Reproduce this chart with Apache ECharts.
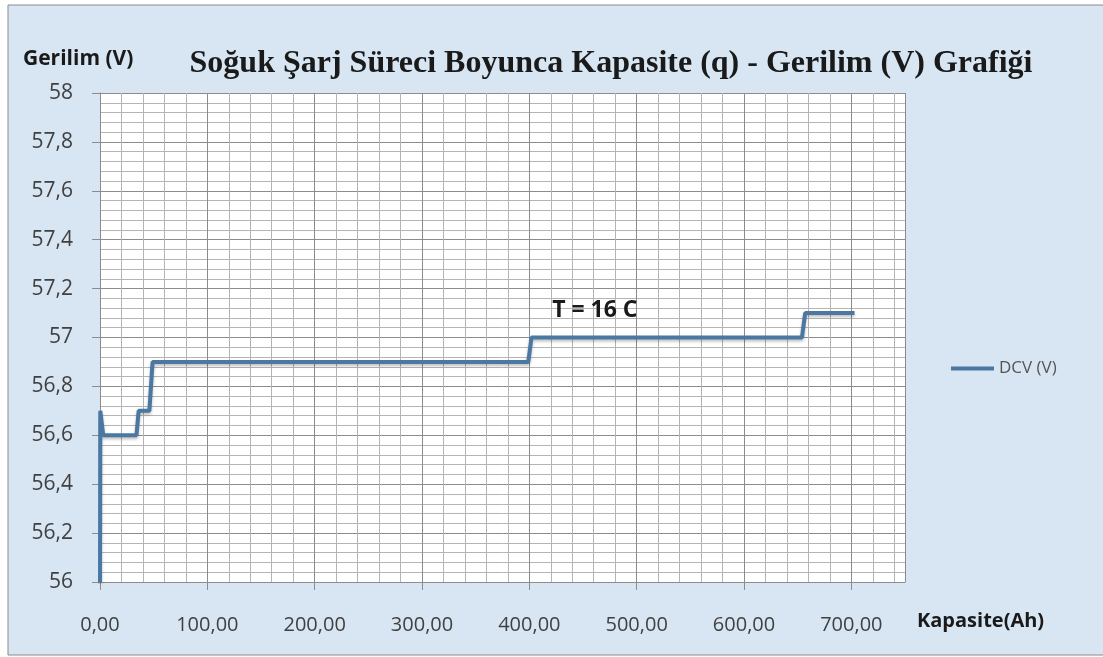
<!DOCTYPE html>
<html>
<head>
<meta charset="utf-8">
<script src="https://cdn.jsdelivr.net/npm/echarts@6/dist/echarts.min.js"></script>
<style>
  html, body { margin: 0; padding: 0; background: #ffffff; }
  #chart { width: 1103px; height: 657px; }
</style>
</head>
<body>
<div id="chart"></div>
<script>
// kapasite (Ah) ve gerilim (V) noktaları
const kapasite = [0, 0.3, 3, 34, 36, 46, 49, 399, 402, 654, 657, 703];
const gerilim = [56, 56.7, 56.6, 56.6, 56.7, 56.7, 56.9, 56.9, 57, 57, 57.1, 57.1];
const seriesName = 'DCV (V)';
const titleText = 'Soğuk Şarj Süreci Boyunca Kapasite (q) - Gerilim (V) Grafiği';
const noteText = 'T = 16 C';

const COLORS = {
  LINE: '#4A78A3',
  BG: '#d8e6f3',
  TEXT: '#404040',
  GRID_MINOR: '#b4b4b4',
  GRID_MAJOR: '#8c8c8c',
};

const fmtY = v => (Math.abs(v - Math.round(v)) < 1e-6 ? String(Math.round(v)) : v.toFixed(1).replace('.', ','));
const fmtX = v => v.toFixed(2).replace('.', ',');

const chart = echarts.init(document.getElementById('chart'));

chart.setOption({
  animation: false,
  backgroundColor: '#ffffff',
  graphic: [
    {
      type: 'rect',
      z: -10,
      shape: { x: 8, y: 5, width: 1110, height: 650 },
      style: { fill: COLORS.BG, stroke: '#8a8a8a', lineWidth: 1 }
    },
    {
      type: 'text',
      left: 23, top: 49,
      style: { text: 'Gerilim (V)', font: 'bold 21px "Open Sans"', fill: '#1a1a1a' }
    },
    {
      type: 'text',
      left: 917, top: 611,
      style: { text: 'Kapasite(Ah)', font: 'bold 20px "Open Sans"', fill: '#1a1a1a' }
    }
  ],
  title: {
    text: titleText,
    left: 606,
    textAlign: 'center',
    top: 43,
    textStyle: { fontFamily: 'Liberation Serif', fontWeight: 'bold', fontSize: 32, color: '#1a1a1a' }
  },
  legend: {
    data: [seriesName],
    left: 946,
    top: 355,
    itemWidth: 43,
    itemHeight: 4,
    icon: 'rect',
    itemGap: 4,
    textStyle: { fontFamily: 'Open Sans', fontSize: 17, color: '#555' }
  },
  grid: {
    left: 100, right: 198, top: 93, bottom: 75,
    show: true, backgroundColor: '#ffffff', borderWidth: 0
  },
  xAxis: [
    {
      type: 'value', min: 0, max: 750, interval: 20,
      axisLine: { show: false },
      axisTick: { show: false },
      axisLabel: { show: false },
      splitLine: { show: true, lineStyle: { color: COLORS.GRID_MINOR, width: 1 } }
    },
    {
      type: 'value', min: 0, max: 750, interval: 100, position: 'bottom',
      axisLine: { show: true, onZero: false, lineStyle: { color: COLORS.GRID_MAJOR } },
      axisTick: { show: true, length: 8, lineStyle: { color: COLORS.GRID_MAJOR } },
      axisLabel: {
        showMaxLabel: false, margin: 33,
        formatter: v => (v % 100 === 0 ? fmtX(v) : ''),
        fontFamily: 'Open Sans', fontSize: 20, color: COLORS.TEXT
      },
      splitLine: { show: true, lineStyle: { color: COLORS.GRID_MAJOR, width: 1 } }
    }
  ],
  yAxis: {
    type: 'value', min: 56, max: 58, interval: 0.2,
    axisLine: { show: true, lineStyle: { color: COLORS.GRID_MAJOR } },
    axisTick: { show: true, length: 8, lineStyle: { color: COLORS.GRID_MAJOR } },
    axisLabel: { formatter: fmtY, margin: 27, fontFamily: 'Open Sans', fontSize: 21, color: COLORS.TEXT },
    splitLine: { show: true, lineStyle: { color: COLORS.GRID_MAJOR, width: 1 } },
    minorTick: { show: false, splitNumber: 5 },
    minorSplitLine: { show: true, lineStyle: { color: COLORS.GRID_MINOR, width: 1 } }
  },
  series: [
    {
      name: seriesName,
      type: 'line',
      xAxisIndex: 1,
      data: kapasite.map((x, i) => [x, gerilim[i]]),
      symbol: 'none',
      lineStyle: { color: COLORS.LINE, width: 4, shadowColor: 'rgba(0,0,0,0.25)', shadowBlur: 3, shadowOffsetY: 2 },
      itemStyle: { color: COLORS.LINE },
      markPoint: {
        symbolSize: 0,
        data: [{ coord: [461, 57.11], value: noteText }],
        label: {
          show: true, formatter: noteText,
          fontFamily: 'Open Sans', fontWeight: 'bold', fontSize: 23, color: '#1a1a1a'
        }
      }
    }
  ]
});
</script>
</body>
</html>
